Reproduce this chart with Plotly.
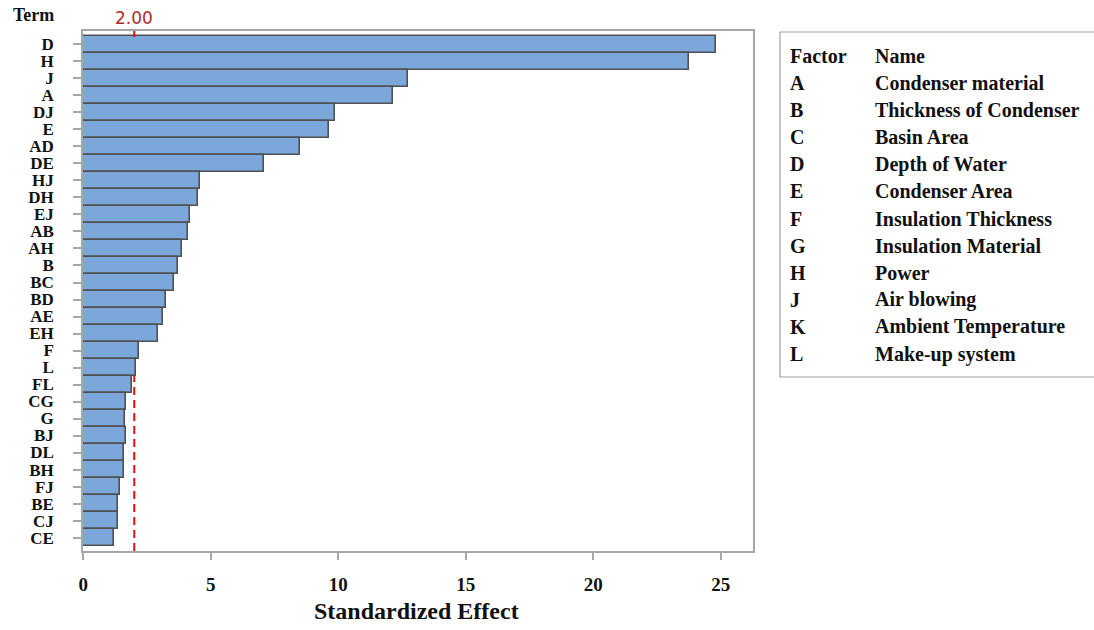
import plotly.graph_objects as go

# Pareto of standardized effects
terms = ["D", "H", "J", "A", "DJ", "E", "AD", "DE", "HJ", "DH", "EJ", "AB", "AH", "B",
         "BC", "BD", "AE", "EH", "F", "L", "FL", "CG", "G", "BJ", "DL", "BH", "FJ",
         "BE", "CJ", "CE"]
effects = [24.80, 23.77, 12.75, 12.13, 9.86, 9.62, 8.51, 7.09, 4.58, 4.51, 4.18, 4.12,
           3.86, 3.70, 3.54, 3.24, 3.14, 2.92, 2.20, 2.05, 1.90, 1.66, 1.65, 1.68, 1.59,
           1.61, 1.43, 1.36, 1.35, 1.22]
reference_value = 2.00
x_ticks = [0, 5, 10, 15, 20, 25]

factor_codes = ["A", "B", "C", "D", "E", "F", "G", "H", "J", "K", "L"]
factor_names = ["Condenser material", "Thickness of Condenser", "Basin Area",
                "Depth of Water", "Condenser Area", "Insulation Thickness",
                "Insulation Material", "Power", "Air blowing", "Ambient Temperature",
                "Make-up system"]

W, H = 1094, 630
L_PX, R_PX, T_PX, B_PX = 83, 753, 31, 551
SERIF = "Liberation Serif, Times New Roman, serif"
KEY_SIZE = 20


def px(x):
    return (x - L_PX) / (R_PX - L_PX)


def py(y):
    return (B_PX - y) / (B_PX - T_PX)


fig = go.Figure()
fig.add_trace(go.Bar(
    x=effects, y=terms, orientation="h",
    marker=dict(color="#7ba7da", line=dict(color="#505050", width=1.6)),
    width=1.0, hoverinfo="x+y",
))

shapes = [
    # reference line at the critical effect value
    dict(type="line", xref="x", yref="paper", x0=reference_value, x1=reference_value,
         y0=0, y1=1, layer="below",
         line=dict(color="#e01010", width=2, dash="8px,5px")),
    # factor key box
    dict(type="rect", xref="paper", yref="paper",
         x0=px(780), x1=px(1100), y0=py(377), y1=py(32),
         line=dict(color="#a0a0a0", width=1.2), fillcolor="rgba(0,0,0,0)"),
    # small red tick on the top frame at the reference value
    dict(type="line", xref="x", yref="paper", x0=reference_value,
         x1=reference_value, y0=1, y1=py(T_PX + 6),
         line=dict(color="#e01010", width=2)),
]

annotations = [
    dict(text="<b>Term</b>", xref="paper", yref="paper", x=px(33), y=py(15),
         showarrow=False, font=dict(family=SERIF, size=18, color="#111"),
         xanchor="center", yanchor="middle"),
    dict(text=f"{reference_value:.2f}", xref="x", yref="paper", x=reference_value,
         y=py(18), showarrow=False,
         font=dict(family="DejaVu Sans, Arial, sans-serif", size=17, color="#b02a2a"),
         xanchor="center", yanchor="middle"),
    dict(text="<b>Standardized Effect</b>", xref="paper", yref="paper",
         x=px(416), y=py(611), showarrow=False,
         font=dict(family=SERIF, size=24, color="#111"),
         xanchor="center", yanchor="middle"),
    dict(text="<b>Factor</b>", xref="paper", yref="paper", x=px(788), y=py(56),
         showarrow=False, font=dict(family=SERIF, size=KEY_SIZE, color="#111"),
         xanchor="left", yanchor="middle"),
    dict(text="<b>Name</b>", xref="paper", yref="paper", x=px(873), y=py(56),
         showarrow=False, font=dict(family=SERIF, size=KEY_SIZE, color="#111"),
         xanchor="left", yanchor="middle"),
]
for i, (code, name) in enumerate(zip(factor_codes, factor_names)):
    yy = 83 + i * 27.1
    annotations.append(dict(text=f"<b>{code}</b>", xref="paper", yref="paper",
                            x=px(788), y=py(yy), showarrow=False,
                            font=dict(family=SERIF, size=KEY_SIZE, color="#111"),
                            xanchor="left", yanchor="middle"))
    annotations.append(dict(text=f"<b>{name}</b>", xref="paper", yref="paper",
                            x=px(873), y=py(yy), showarrow=False,
                            font=dict(family=SERIF, size=KEY_SIZE, color="#111"),
                            xanchor="left", yanchor="middle"))

fig.update_layout(
    width=W, height=H,
    margin=dict(l=L_PX, r=W - R_PX, t=T_PX, b=H - B_PX, pad=0),
    paper_bgcolor="white", plot_bgcolor="white",
    showlegend=False, bargap=0,
    shapes=shapes, annotations=annotations,
    xaxis=dict(range=[-0.01, 26.26], tickvals=x_ticks,
               ticktext=[f"<b>{v}</b>" for v in x_ticks],
               showgrid=False, zeroline=False,
               showline=True, mirror=True, linecolor="#a6a6a6", linewidth=1.5,
               ticks="outside", ticklen=7, tickcolor="#a6a6a6", tickwidth=1.5,
               ticklabelstandoff=8,
               tickfont=dict(family=SERIF, size=19, color="#111")),
    yaxis=dict(type="category", categoryorder="array", categoryarray=terms,
               range=[len(terms) - 0.5 + 0.29, -0.5 - 0.29],
               tickvals=terms, ticktext=[f"<b>{t}</b>" for t in terms],
               showgrid=False, zeroline=False,
               showline=True, mirror=True, linecolor="#a6a6a6", linewidth=1.5,
               ticks="outside", ticklen=8, tickcolor="#a6a6a6", tickwidth=1.5,
               ticklabelstandoff=16,
               tickfont=dict(family=SERIF, size=17, color="#111")),
)

fig.write_html("out.html")
